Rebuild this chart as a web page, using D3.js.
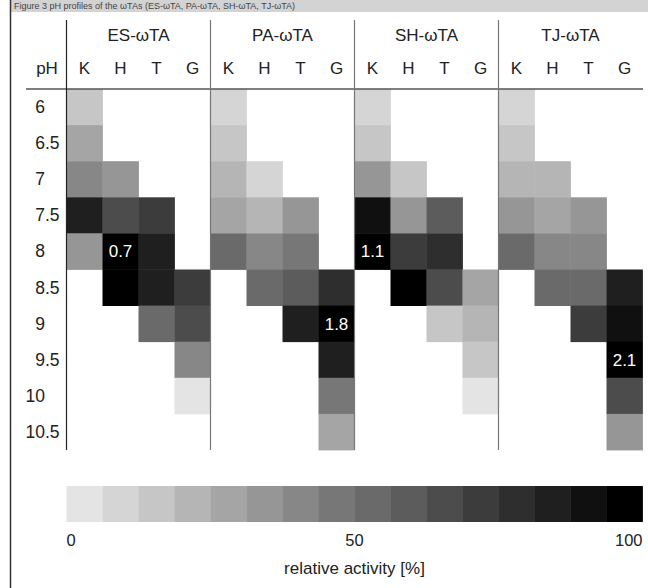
<!DOCTYPE html>
<html>
<head>
<meta charset="utf-8">
<script src="https://cdn.jsdelivr.net/npm/d3@7"></script>
<style>
    body { margin: 0; background: #fff; }
    text { font-family: "Liberation Sans", Arial, sans-serif; fill: #222; }
</style>
</head>
<body>
<div id="chart-area"></div>
<script>

// pH rows (top to bottom), enzymes and substrates (columns)
const phLevels = ["6", "6.5", "7", "7.5", "8", "8.5", "9", "9.5", "10", "10.5"];
const enzymes = ["ES-ωTA", "PA-ωTA", "SH-ωTA", "TJ-ωTA"];
const substrates = ["K", "H", "T", "G"];

// relative activity [%] per pH row, columns K, H, T, G (null = no activity)
const esActivity = [
    [16, null, null, null],
    [28, null, null, null],
    [41, 34, null, null],
    [84, 66, 72, null],
    [34, 100, 84, null],
    [null, 96, 84, 70],
    [null, null, 53, 66],
    [null, null, null, 41],
    [null, null, null, 3],
    [null, null, null, null]
];
const paActivity = [
    [9, null, null, null],
    [13, null, null, null],
    [22, 9, null, null],
    [28, 22, 34, null],
    [53, 41, 47, null],
    [null, 53, 59, 78],
    [null, null, 84, 100],
    [null, null, null, 84],
    [null, null, null, 47],
    [null, null, null, 28]
];
const shActivity = [
    [9, null, null, null],
    [16, null, null, null],
    [34, 16, null, null],
    [91, 34, 59, null],
    [100, 70, 78, null],
    [null, 97, 66, 28],
    [null, null, 16, 22],
    [null, null, null, 16],
    [null, null, null, 3],
    [null, null, null, null]
];
const tjActivity = [
    [9, null, null, null],
    [13, null, null, null],
    [22, 22, null, null],
    [34, 25, 34, null],
    [53, 41, 41, null],
    [null, 53, 53, 85],
    [null, null, 70, 91],
    [null, null, null, 100],
    [null, null, null, 66],
    [null, null, null, 34]
];

// value printed in the 100 % cell of each enzyme
const maxActivity = ["0.7", "1.8", "1.1", "2.1"];

// colour key
const legendGrays = ["#e4e4e4", "#d5d5d5", "#c6c6c6", "#b5b5b5", "#a5a5a5", "#969696", "#878787", "#777777",
    "#6a6a6a", "#5c5c5c", "#4c4c4c", "#3c3c3c", "#2e2e2e", "#1f1f1f", "#101010", "#000000"];
const legendTicks = [0, 50, 100];
const legendTitle = "relative activity [%]";
const bannerText = "Figure 3  pH profiles of the ωTAs (ES-ωTA, PA-ωTA, SH-ωTA, TJ-ωTA)";


class HeatmapVis {
    constructor(parentElement) {
        this.parentElement = parentElement;
        this.activity = [esActivity, paActivity, shActivity, tjActivity];
        this.displayData = [];

        this.initVis();
    }

    initVis() {
        let vis = this;

        vis.width = 648;
        vis.height = 588;

        vis.svg = d3.select("#" + vis.parentElement).append("svg")
            .attr("width", vis.width)
            .attr("height", vis.height);

        // column keys like "ES-ωTA|K"
        vis.columns = [];
        enzymes.forEach(e => substrates.forEach(s => vis.columns.push(e + "|" + s)));

        vis.x = d3.scaleBand()
            .domain(vis.columns)
            .range([66.5, 642.5]);

        vis.y = d3.scaleBand()
            .domain(phLevels)
            .range([89, 450]);

        vis.color = d3.scaleQuantize()
            .domain([0, 100])
            .range(legendGrays);

        vis.legendX = d3.scaleLinear()
            .domain([0, 100])
            .range(vis.x.range());

        vis.wrangleData();
    }

    wrangleData() {
        let vis = this;

        vis.displayData = [];
        enzymes.forEach((e, ei) => {
            vis.activity[ei].forEach((row, ri) => {
                row.forEach((v, si) => {
                    if (v === null) return;
                    vis.displayData.push({
                        enzyme: e,
                        column: e + "|" + substrates[si],
                        ph: phLevels[ri],
                        value: v,
                        label: v === 100 ? maxActivity[ei] : null
                    });
                });
            });
        });

        vis.updateVis();
    }

    updateVis() {
        let vis = this;
        let bw = vis.x.bandwidth();

        // top banner (title strip) and left frame
        vis.svg.append("rect")
            .attr("x", 10).attr("y", 0)
            .attr("width", vis.width - 10).attr("height", 12)
            .attr("fill", "#d3d3d3");
        vis.svg.append("text")
            .attr("x", 14).attr("y", 9)
            .attr("font-size", 9)
            .style("fill", "#444")
            .text(bannerText);
        vis.svg.append("line")
            .attr("x1", 10.5).attr("x2", 10.5)
            .attr("y1", 0).attr("y2", vis.height)
            .attr("stroke", "#333").attr("stroke-width", 1.5);

        // cells
        vis.svg.selectAll(".cell")
            .data(vis.displayData)
            .enter().append("rect")
            .attr("class", "cell")
            .attr("x", d => vis.x(d.column))
            .attr("y", d => vis.y(d.ph))
            .attr("width", bw + 0.4)
            .attr("height", vis.y.bandwidth() + 0.4)
            .attr("fill", d => vis.color(d.value));

        vis.svg.selectAll(".cell-label")
            .data(vis.displayData.filter(d => d.label))
            .enter().append("text")
            .attr("class", "cell-label")
            .attr("x", d => vis.x(d.column) + bw / 2)
            .attr("y", d => vis.y(d.ph) + vis.y.bandwidth() / 2 + 6)
            .attr("text-anchor", "middle")
            .attr("font-size", 17)
            .style("fill", "#fff")
            .text(d => d.label);

        // header line and separators
        vis.svg.append("line")
            .attr("x1", 26).attr("x2", 643)
            .attr("y1", 89).attr("y2", 89)
            .attr("stroke", "#555").attr("stroke-width", 1.5);

        enzymes.forEach((e, i) => {
            let x0 = vis.x(e + "|" + substrates[0]);
            vis.svg.append("line")
                .attr("x1", x0).attr("x2", x0)
                .attr("y1", 20).attr("y2", 450)
                .attr("stroke", i === 0 ? "#222" : "#777")
                .attr("stroke-width", 1.2);

            vis.svg.append("text")
                .attr("x", x0 + bw * 2)
                .attr("y", 41)
                .attr("text-anchor", "middle")
                .attr("font-size", 17)
                .text(e);
        });

        vis.svg.selectAll(".col-label")
            .data(vis.columns)
            .enter().append("text")
            .attr("class", "col-label")
            .attr("x", d => vis.x(d) + bw / 2)
            .attr("y", 74)
            .attr("text-anchor", "middle")
            .attr("font-size", 17)
            .text(d => d.split("|")[1]);

        vis.svg.append("text")
            .attr("x", 47).attr("y", 74)
            .attr("text-anchor", "middle")
            .attr("font-size", 17)
            .text("pH");

        // pH labels aligned on the decimal point
        let rowLabels = vis.svg.selectAll(".row-label")
            .data(phLevels)
            .enter().append("g")
            .attr("class", "row-label")
            .attr("transform", d => `translate(45, ${vis.y(d) + vis.y.bandwidth() / 2 + 6})`);
        rowLabels.append("text")
            .attr("text-anchor", "end")
            .attr("font-size", 17.5)
            .text(d => d.split(".")[0]);
        rowLabels.filter(d => d.includes("."))
            .append("text")
            .attr("font-size", 17.5)
            .text(d => "." + d.split(".")[1]);

        // colour key
        vis.svg.selectAll(".key")
            .data(legendGrays)
            .enter().append("rect")
            .attr("class", "key")
            .attr("x", (d, i) => vis.legendX(i * 100 / legendGrays.length))
            .attr("y", 486)
            .attr("width", bw + 0.4)
            .attr("height", 36)
            .attr("fill", d => d);

        vis.svg.selectAll(".key-tick")
            .data(legendTicks)
            .enter().append("text")
            .attr("class", "key-tick")
            .attr("x", d => vis.legendX(d))
            .attr("y", 546)
            .attr("text-anchor", (d, i) => i === 0 ? "start" : (i === legendTicks.length - 1 ? "end" : "middle"))
            .attr("font-size", 16.5)
            .text(d => d);

        vis.svg.append("text")
            .attr("x", vis.legendX(50))
            .attr("y", 574)
            .attr("text-anchor", "middle")
            .attr("font-size", 17)
            .text(legendTitle);
    }
}

new HeatmapVis("chart-area");
</script>
</body>
</html>
